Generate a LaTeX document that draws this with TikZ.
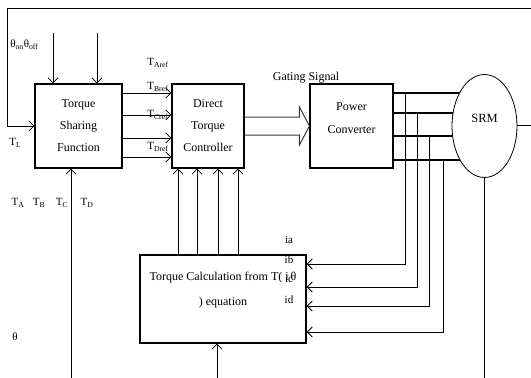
\documentclass[tikz,border=0pt]{standalone}
\usepackage{fontspec}
\setmainfont{Liberation Serif}
\usetikzlibrary{arrows.meta,positioning,calc,shapes.geometric,backgrounds}

\begin{document}
\begin{tikzpicture}[x=1pt,y=-1pt,on grid,semithick,
every node/.style={inner sep=0pt},
bloc/.style={draw,line width=1.1pt,minimum height=84pt,align=center,
             font=\fontsize{12}{22}\selectfont},
etiq/.style={font=\fontsize{11}{13}\selectfont}]

\tikzset{fleche/.style={-{Straight Barb[length=5pt,width=10pt]},line width=0.8pt}}

\useasboundingbox (0,0) rectangle (531,378);

\node[bloc,minimum width=87pt] (tsf) at (78.5,126) {Torque\\Sharing\\Function};
\node[bloc,minimum width=72pt] (dtc) [right=129.5pt of tsf] {Direct\\Torque\\Controller};
\node[bloc,minimum width=83pt,
      label={[align=center,font=\fontsize{12}{23}\selectfont,yshift=8pt]center:Power\\Converter}]
      (pc) [right=143.5pt of dtc] {};
\node[draw,ellipse,fill=white,line width=0.8pt,minimum width=65pt,minimum height=103pt,
      label={[font=\fontsize{12.5}{14}\selectfont,yshift=8pt]center:SRM}]
      (srm) [right=133pt of pc] {};
\node[bloc,minimum width=166pt,minimum height=88pt,
      label={[align=center,font=\fontsize{12}{25}\selectfont,yshift=9pt]center:Torque Calculation from T( i\,θ\\) equation}]
      (tc) at (223,299) {};

% feedback and inputs of the sharing function
\coordinate (fbend) at (531,8);
\coordinate (onoff1) at (53,33);
\coordinate (onoff2) at (97,33);
\coordinate (tin) at (71,378);
\draw[fleche] (fbend) -- (7,8) -- (7,126) -- (tsf.west);
\draw[fleche] (onoff1) -- (tsf.north -| onoff1);
\draw[fleche] (onoff2) -- (tsf.north -| onoff2);
\draw[fleche] (tin) -- (tsf.south -| tin);

\node[etiq,anchor=west] (thon) at (10,45) {θ\textsubscript{on}θ\textsubscript{off}};
\node[etiq,anchor=west] (tl) at (9,143) {T\textsubscript{L}};
\foreach \x/\n in {18/A,39/B,62/C,87/D}
  \node[etiq] (t\n) at (\x,203) {T\textsubscript{\n}};
\node[etiq] (th) at (15,337) {θ};

% reference torques
\foreach \y in {93,115,138,157}
  \draw[fleche] (tsf.east |- 0,\y) -- (dtc.west |- 0,\y);
\foreach \y/\n in {63/A,87/B,115/C,147/D}
  \node[etiq,anchor=west] (r\n) at (147,\y) {T\textsubscript{\n ref}};

% gating signal
\draw[gray!45!black,line width=1pt] (dtc.east |- 0,117) -- ($(pc.west)+(-10,-9)$) -- ($(pc.west)+(-10,-19)$)
  -- (pc.west) -- ($(pc.west)+(-10,19)$) -- ($(pc.west)+(-10,9)$) -- (dtc.east |- 0,135);
\node[font=\fontsize{12}{14}\selectfont] (gs) at (306,78) {Gating Signal};

% phases to the motor
\begin{scope}[on background layer]
\foreach \y in {93,113,136,160}
  \draw[line width=1.5pt] (pc.east |- 0,\y) -- (srm.center |- 0,\y);
\end{scope}
\coordinate (sout) at (531,125);
\coordinate (sbot) at (484.5,378);
\draw[line width=0.9pt] (srm.east |- sout) -- (sout);
\draw[line width=0.9pt] (srm.south) -- (srm.south |- sbot);

% measured currents
\foreach \x/\ya/\yb in {405/93/264,417/113/287,429/136/306,443/160/332}
  \draw[fleche,line width=1pt] (\x,\ya) -- (\x,\yb) -- (tc.east |- 0,\yb);
\foreach \y/\n in {240/a,260/b,279/c,300/d}
  \node[etiq] (i\n) at (289,\y) {i\n};

% calculated torques
\foreach \x in {178,197,218,238}
  \draw[fleche] (tc.north -| \x,0) -- (dtc.south -| \x,0);
\coordinate (tcin) at (217,378);
\draw[fleche] (tcin) -- (tc.south -| tcin);
\end{tikzpicture}
\end{document}
